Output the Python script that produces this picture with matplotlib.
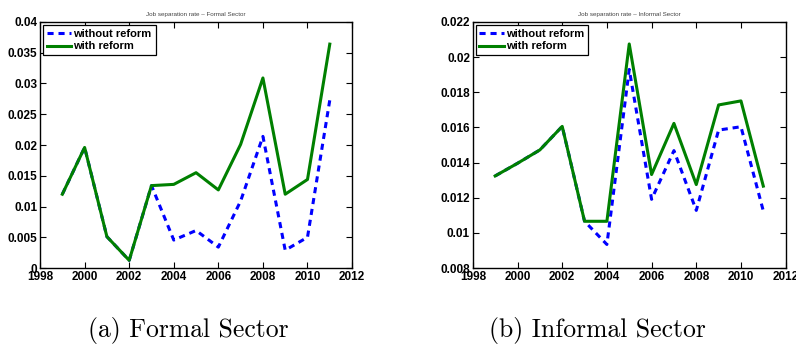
import numpy as np
import matplotlib
matplotlib.use('Agg')
import matplotlib.pyplot as plt
from matplotlib.ticker import FuncFormatter

plt.rcParams['font.family'] = ['Liberation Sans', 'DejaVu Sans']

years = [1999, 2000, 2001, 2002, 2003, 2004, 2005, 2006, 2007, 2008, 2009, 2010, 2011]

formal_without = [0.0120, 0.0196, 0.0051, 0.00125, 0.0134, 0.00455, 0.0061, 0.0034,
                  0.0109, 0.0214, 0.0029, 0.0050, 0.0273]
formal_with = [0.0120, 0.0196, 0.0051, 0.00125, 0.0134, 0.0136, 0.0155, 0.0127,
               0.0201, 0.0309, 0.0120, 0.0144, 0.0364]

informal_without = [0.01324, 0.01396, 0.01472, 0.01606, 0.01066, 0.00934, 0.0193, 0.01191,
                    0.01468, 0.01128, 0.01585, 0.01604, 0.01125]
informal_with = [0.01324, 0.01396, 0.01472, 0.01606, 0.01066, 0.01066, 0.02075, 0.01332,
                 0.01623, 0.01275, 0.01728, 0.01751, 0.01266]

titles = ['Job separation rate \u2013 Formal Sector', 'Job separation rate \u2013 Informal Sector']
captions = ['(a) Formal Sector', '(b) Informal Sector']

fig = plt.figure(figsize=(7.96, 3.49), dpi=100)
ax1 = fig.add_axes([0.0503, 0.232, 0.392, 0.705])
ax2 = fig.add_axes([0.594, 0.232, 0.393, 0.705])

def fmt(v, pos):
    return '%g' % round(v, 6)

panels = [(ax1, formal_without, formal_with, (0, 0.04), 0.005),
          (ax2, informal_without, informal_with, (0.008, 0.022), 0.002)]

for i, (ax, wo, w, ylim, step) in enumerate(panels):
    ax.plot(years, wo, color='blue', linestyle=(0, (2, 1.6)), linewidth=2.2, label='without reform')
    ax.plot(years, w, color=(0, 0.5, 0), linestyle='-', linewidth=2.2, label='with reform')
    ax.set_xlim(1998, 2012)
    ax.set_ylim(*ylim)
    ax.set_xticks(np.arange(1998, 2013, 2))
    ax.set_yticks(np.arange(ylim[0], ylim[1] + step / 2, step))
    ax.yaxis.set_major_formatter(FuncFormatter(fmt))
    ax.tick_params(direction='in', top=True, right=True, length=4, width=0.8, labelsize=8.5, pad=2)
    for lab in ax.get_xticklabels() + ax.get_yticklabels():
        lab.set_fontweight('bold')
    for sp in ax.spines.values():
        sp.set_linewidth(1.0)
    ax.set_title(titles[i], fontsize=4.5, color='#444444', pad=4)
    leg = ax.legend(loc='upper left', fancybox=False, framealpha=1, edgecolor='black',
                    prop={'weight': 'bold', 'size': 8}, handlelength=2.2, handletextpad=0.2,
                    borderpad=0.35, labelspacing=0.25, borderaxespad=0.25)
    leg.get_frame().set_linewidth(0.9)

fig.text(0.237, 0.052, captions[0], ha='center', va='center', fontsize=18.5, family=['cmr10', 'DejaVu Serif'])
fig.text(0.751, 0.052, captions[1], ha='center', va='center', fontsize=18.5, family=['cmr10', 'DejaVu Serif'])

fig.savefig('out.png', dpi=100)
